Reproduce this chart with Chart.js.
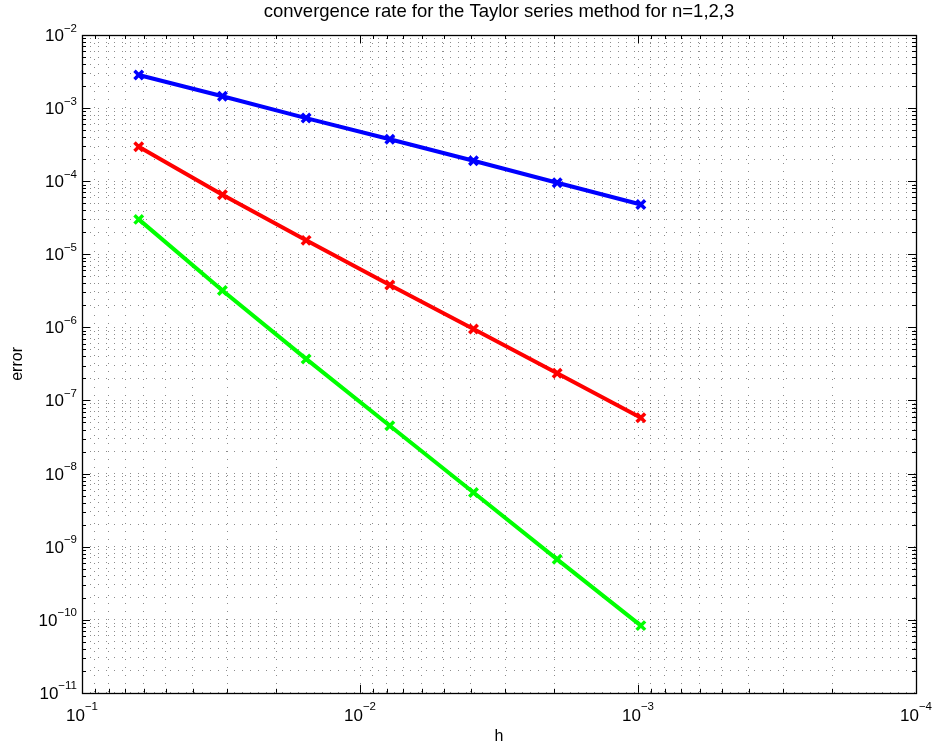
<!DOCTYPE html>
<html>
<head>
<meta charset="utf-8">
<script src="https://cdn.jsdelivr.net/npm/chart.js@4"></script>
<style>
  body { margin: 0; background: #fff; }
</style>
</head>
<body>
<canvas id="myChart" width="935" height="746"></canvas>
<script>
const ctx = document.getElementById('myChart');

// step sizes h = 1/16 ... 1/1024
const hValues = [0.0625, 0.03125, 0.015625, 0.0078125, 0.00390625, 0.001953125, 0.0009765625];
// error for n=1, n=2, n=3
const errN1 = [2.84e-3, 1.45e-3, 7.3e-4, 3.75e-4, 1.9e-4, 9.5e-5, 4.8e-5];
const errN2 = [2.96e-4, 6.5e-5, 1.55e-5, 3.8e-6, 9.5e-7, 2.35e-7, 5.8e-8];
const errN3 = [3.0e-5, 3.2e-6, 3.7e-7, 4.5e-8, 5.5e-9, 6.7e-10, 8.3e-11];

// decades shown on the axes and their exponent labels
const xDecades = [1e-1, 1e-2, 1e-3, 1e-4];
const xExpLabels = ['\u22121', '\u22122', '\u22123', '\u22124'];
const yDecades = [1e-2, 1e-3, 1e-4, 1e-5, 1e-6, 1e-7, 1e-8, 1e-9, 1e-10, 1e-11];
const yExpLabels = ['\u22122', '\u22123', '\u22124', '\u22125', '\u22126', '\u22127', '\u22128', '\u22129', '\u221210', '\u221211'];
const minorSteps = [2, 3, 4, 5, 6, 7, 8, 9];

const FONT = '"Liberation Sans", Arial, Helvetica, sans-serif';

function logTicks(decades, labels) {
    let out = [];
    decades.forEach((d, i) => {
        out.push({value: d, major: true, exp: labels[i]});
        if (i < decades.length - 1) {
            let lo = Math.min(d, decades[i + 1]);
            minorSteps.forEach(m => out.push({value: lo * m, major: false}));
        }
    });
    return out.sort((a, b) => a.value - b.value);
}

// inward ticks on all four sides, closed frame, 10^n labels
const matlabAxes = {
    id: 'matlabAxes',
    afterDraw(chart) {
        const c = chart.ctx;
        const a = chart.chartArea;
        const xs = chart.scales.x, ys = chart.scales.y;
        c.save();
        c.strokeStyle = '#000';
        c.lineWidth = 1;
        c.beginPath();
        xs.ticks.forEach(t => {
            let px = Math.round(xs.getPixelForValue(t.value)) + 0.5;
            let len = t.major ? 8 : 4;
            c.moveTo(px, a.bottom); c.lineTo(px, a.bottom - len);
            c.moveTo(px, a.top); c.lineTo(px, a.top + len);
        });
        ys.ticks.forEach(t => {
            let py = Math.round(ys.getPixelForValue(t.value)) + 0.5;
            let len = t.major ? 8 : 4;
            c.moveTo(a.left, py); c.lineTo(a.left + len, py);
            c.moveTo(a.right, py); c.lineTo(a.right - len, py);
        });
        c.stroke();
        c.lineWidth = 1.3;
        c.strokeRect(Math.round(a.left) + 0.5, Math.round(a.top) + 0.5, Math.round(a.width), Math.round(a.height));

        c.fillStyle = '#000';
        c.textAlign = 'left';
        c.textBaseline = 'alphabetic';
        const baseFont = '17px ' + FONT, supFont = '11.5px ' + FONT;
        c.font = baseFont;
        const baseW = c.measureText('10').width;

        ys.ticks.filter(t => t.major).forEach(t => {
            let py = ys.getPixelForValue(t.value);
            c.font = supFont;
            let supW = c.measureText(t.exp).width;
            let right = a.left - 5;
            c.fillText(t.exp, right - supW, py - 3.5);
            c.font = baseFont;
            c.fillText('10', right - supW - baseW, py + 6);
        });
        xs.ticks.filter(t => t.major).forEach(t => {
            let px = xs.getPixelForValue(t.value);
            c.font = supFont;
            let supW = c.measureText(t.exp).width;
            let x0 = px - (baseW + supW) / 2;
            c.fillText(t.exp, x0 + baseW, a.bottom + 17);
            c.font = baseFont;
            c.fillText('10', x0, a.bottom + 28.5);
        });
        c.restore();
    }
};

function seriesStyle(color) {
    return {
        borderColor: color,
        backgroundColor: color,
        borderWidth: 4,
        pointStyle: 'crossRot',
        pointRadius: 6,
        pointHoverRadius: 6,
        pointBorderWidth: 3.5,
        pointBorderColor: color,
        fill: false,
        tension: 0
    };
}

let dataChart = new Chart(ctx, {
type: 'line',
data: {
    datasets: [
        Object.assign({label: 'n=1', data: hValues.map((h, i) => ({x: h, y: errN1[i]}))}, seriesStyle('#0000ff')),
        Object.assign({label: 'n=2', data: hValues.map((h, i) => ({x: h, y: errN2[i]}))}, seriesStyle('#ff0000')),
        Object.assign({label: 'n=3', data: hValues.map((h, i) => ({x: h, y: errN3[i]}))}, seriesStyle('#00ff00'))
    ]
},
options: {
    responsive: false,
    animation: false,
    layout: {
        padding: {left: 0, top: 0, right: 19, bottom: 0}
    },
    scales: {
        x: {
            type: 'logarithmic',
            reverse: true,
            min: 1e-4,
            max: 1e-1,
            afterBuildTicks: (s) => { s.ticks = logTicks(xDecades, xExpLabels); },
            ticks: { display: false, autoSkip: false },
            grid: { color: 'rgba(0,0,0,0.45)', lineWidth: 1, drawTicks: false },
            border: { display: false, dash: [1, 7] },
            title: {
                display: true,
                text: 'h',
                color: '#000',
                font: { family: FONT, size: 16 },
                padding: { top: 34, bottom: 0 }
            }
        },
        y: {
            type: 'logarithmic',
            min: 1e-11,
            max: 1e-2,
            afterBuildTicks: (s) => { s.ticks = logTicks(yDecades, yExpLabels); },
            ticks: { display: false, autoSkip: false },
            grid: { color: 'rgba(0,0,0,0.45)', lineWidth: 1, drawTicks: false },
            border: { display: false, dash: [1, 7] },
            title: {
                display: true,
                text: 'error',
                color: '#000',
                font: { family: FONT, size: 16 },
                padding: { top: 8, bottom: 54.8 }
            }
        }
    },
    plugins: {
        legend: { display: false },
        tooltip: { enabled: false },
        title: {
            display: true,
            fullSize: false,
            text: 'convergence rate for the Taylor series method for n=1,2,3',
            color: '#000',
            font: { family: FONT, size: 18.5, weight: 'normal' },
            padding: { top: 1, bottom: 11.8 }
        }
    }
},
plugins: [matlabAxes]
});
</script>
</body>
</html>
